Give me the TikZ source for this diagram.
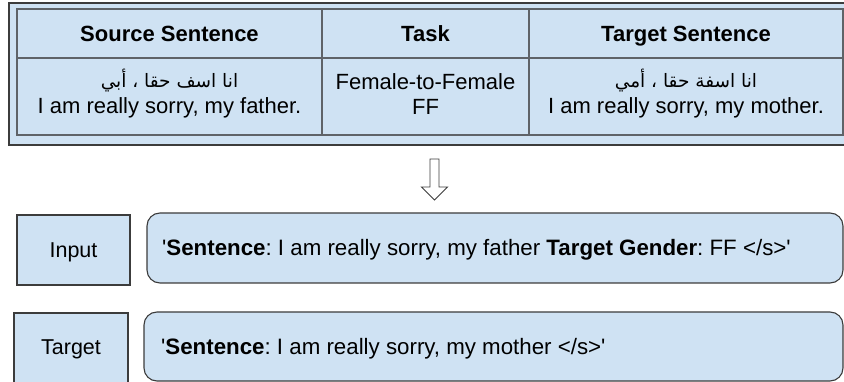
\documentclass[tikz,border=0pt]{standalone}
\usepackage{fontspec}
\setmainfont{Liberation Sans}
\newfontfamily\arabicfont[Script=Arabic]{DejaVu Sans}
\TeXXeTstate=1
\frenchspacing
\definecolor{cellblue}{HTML}{CFE2F3}
\definecolor{gridgray}{HTML}{5F6368}
\definecolor{framegray}{HTML}{3C3C3C}
\tikzset{
  hdr/.style={anchor=base, inner sep=0pt, font=\fontsize{22}{26}\selectfont\bfseries},
  txt/.style={anchor=base, inner sep=0pt, font=\fontsize{22}{26}\selectfont},
  artxt/.style={anchor=base, inner sep=0pt, font=\fontsize{18.5}{22}\arabicfont},
  lbl/.style={anchor=base, inner sep=0pt, font=\fontsize{21.5}{26}\selectfont},
  seq/.style={anchor=base west, inner sep=0pt, font=\fontsize{22.3}{26}\selectfont},
  sqbox/.style={draw=framegray, fill=cellblue, line width=1.1pt},
  rbox/.style={draw=framegray, fill=cellblue, line width=1.1pt, rounded corners=13pt},
}
\begin{document}
\begin{tikzpicture}[x=1pt,y=-1pt]
\useasboundingbox (0,0) rectangle (844,382);
% outer frame and table
\draw[fill=cellblue, draw=framegray, line width=1.5pt] (9,3) rectangle (850,145);
\draw[fill=cellblue, draw=gridgray, line width=1.2pt] (17,9) rectangle (843,135);
\draw[draw=gridgray, line width=1.2pt] (17,58) -- (843,58);
\draw[draw=gridgray, line width=1.2pt] (322,9) -- (322,135);
\draw[draw=gridgray, line width=1.2pt] (529,9) -- (529,135);
% headers
\node[hdr] (h1) at (169.5,41.5) {Source Sentence};
\node[hdr] (h2) at (425.5,41.5) {Task};
\node[hdr] (h3) at (686,41.5) {Target Sentence};
% body
\node[artxt] (s1a) at (169.5,88) {\beginR انا اسف حقا ، أبي\endR};
\node[txt] (s1e) at (169.5,114) {I am really sorry, my father.};
\node[txt] (t1) at (425.5,90) {Female-to-Female};
\node[txt] (t2) at (425.5,115) {FF};
\node[artxt] (s2a) at (686,88) {\beginR انا اسفة حقا ، أمي\endR};
\node[txt] (s2e) at (686,114) {I am really sorry, my mother.};
% hollow arrow
\draw[draw=framegray, fill=white, line width=0.9pt, line join=miter]
  (430,159) -- (439,159) -- (439,187) -- (447.5,187) -- (434.5,200) -- (421.5,187) -- (430,187) -- cycle;
% input row
\draw[sqbox] (17,215) rectangle (130,285);
\node[lbl] (inl) at (73.5,258) {Input};
\draw[rbox] (147,213) rectangle (843,283);
\node[seq] (ins) at (162,256) {\textquotesingle\textbf{Sentence}: I am really sorry, my father \textbf{Target Gender}: FF </s>\textquotesingle};
% target row
\draw[sqbox] (14,313) rectangle (128,390);
\node[lbl] (tgl) at (71,355) {Target};
\draw[rbox] (144,312) rectangle (843,381);
\node[seq] (tgs) at (161,354) {\textquotesingle\textbf{Sentence}: I am really sorry, my mother </s>\textquotesingle};
\end{tikzpicture}
\end{document}
